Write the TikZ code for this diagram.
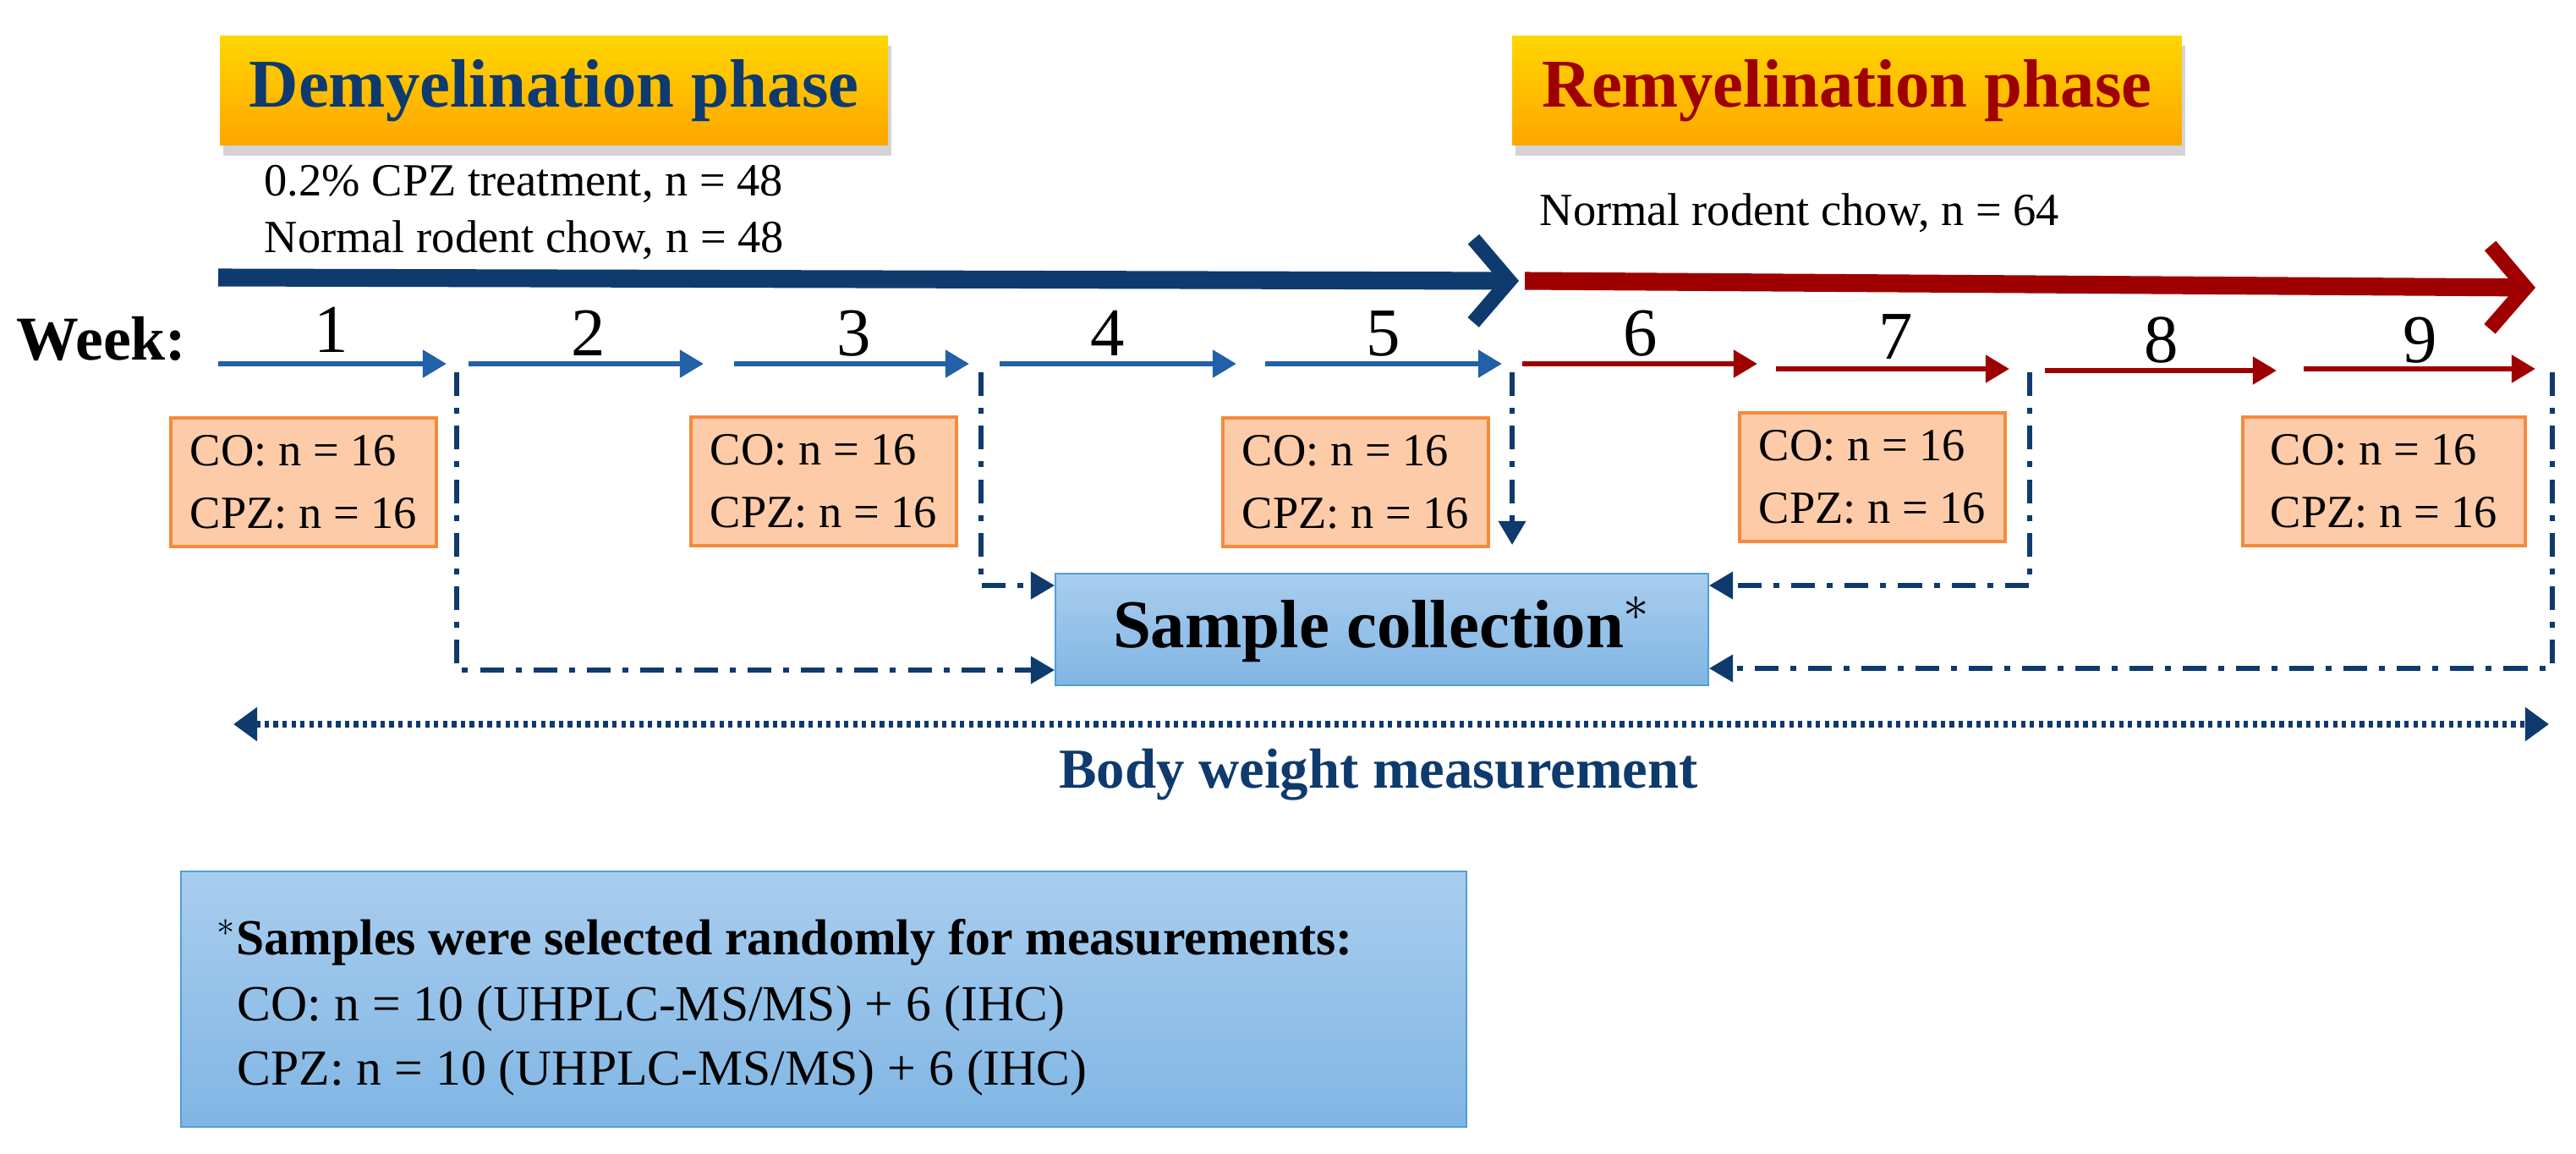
\documentclass[tikz,border=0pt]{standalone}
\usepackage{fontspec}
\setmainfont{Liberation Serif}
\usetikzlibrary{arrows.meta,shadows,positioning}
\definecolor{navy}{HTML}{0E3A6E}
\definecolor{wblue}{HTML}{2260A8}
\definecolor{dred}{HTML}{9E0000}
\definecolor{ofill}{HTML}{FDCBA8}
\definecolor{oline}{HTML}{F58A3C}
\definecolor{btop}{HTML}{A9CDEE}
\definecolor{bbot}{HTML}{80B6E4}
\definecolor{bline}{HTML}{4E9FDA}
\begin{document}
\begin{tikzpicture}[x=0.02cm,y=-0.02cm,
 phase/.style={draw=none,top color=yellow!60!orange!80!yellow,bottom color=orange!70!yellow,
   minimum width=7.9cm,minimum height=1.3cm,inner sep=0pt,font=\fontsize{23}{27}\selectfont\bfseries,
   drop shadow={shadow xshift=0.04cm,shadow yshift=-0.12cm,opacity=0.35}},
 grp/.style={draw=oline,line width=1pt,fill=ofill,minimum width=3.14cm,minimum height=1.52cm,
   align=left,inner sep=0pt,font=\fontsize{15.5}{21}\selectfont},
 wk/.style={wblue,line width=1.8pt,-{Triangle[length=8pt,width=9pt]}},
 rk/.style={dred,line width=1.8pt,-{Triangle[length=8pt,width=9pt]}},
 num/.style={font=\fontsize{23}{27}\selectfont},
 dd/.style={navy,line width=1.5pt,dash pattern=on 8pt off 4pt on 2pt off 4pt},
 ddarr/.style={dd,-{Triangle[length=8pt,width=9pt]}},
 txt/.style={font=\fontsize{15.5}{19}\selectfont,anchor=west,inner sep=0pt},
 bluebox/.style={top color=btop,bottom color=bbot,draw=bline,line width=0.6pt}]
\useasboundingbox (0,0) rectangle (1523,682);
% phase boxes
\node[phase,text=navy] (dem) at (327.5,53.5) {Demyelination phase};
\node[phase,text=dred,minimum width=7.92cm] (rem) at (1092,53.5) {Remyelination phase};
\node[txt] (t1) at (156,109) {0.2\% CPZ treatment, n = 48};
\node[txt] (t2) at (156,142) {Normal rodent chow, n = 48};
\node[txt] (t3) at (910,126) {Normal rodent chow, n = 64};
% big arrows
\coordinate (a0) at (129,164); \coordinate (a1) at (898,166); \coordinate (a2) at (1499,170);
\draw[navy,line width=6pt,-{Straight Barb[length=12pt,width=28pt,line width=5pt]}] (a0) -- (a1);
\draw[dred,line width=6pt,-{Straight Barb[length=12pt,width=28pt,line width=5pt]}] ([xshift=2pt]a1) -- (a2);
% week
\node[font=\fontsize{21}{25}\selectfont\bfseries] (week) at (60,200) {Week:};
\coordinate (w1s) at (129,215); \coordinate (w1e) at (264,215);
\coordinate (w2s) at (277,215); \coordinate (w2e) at (416,215);
\coordinate (w3s) at (434,215); \coordinate (w3e) at (573,215);
\coordinate (w4s) at (591,215); \coordinate (w4e) at (731,215);
\coordinate (w5s) at (748,215); \coordinate (w5e) at (888,215);
\coordinate (w6s) at (900,215); \coordinate (w6e) at (1039,215);
\coordinate (w7s) at (1050,218); \coordinate (w7e) at (1188,218);
\coordinate (w8s) at (1209,219); \coordinate (w8e) at (1346,219);
\coordinate (w9s) at (1362,218); \coordinate (w9e) at (1499,218);
\foreach \i in {1,...,5}{\draw[wk] (w\i s) -- (w\i e);}
\foreach \i in {6,...,9}{\draw[rk] (w\i s) -- (w\i e);}
\node[num] (n1) at (196,195) {1};
\node[num] (n2) at (348,197) {2};
\node[num] (n3) at (505,197) {3};
\node[num] (n4) at (655,197) {4};
\node[num] (n5) at (818,197) {5};
\node[num] (n6) at (970,197) {6};
\node[num] (n7) at (1121,199) {7};
\node[num] (n8) at (1278,201) {8};
\node[num] (n9) at (1431,201) {9};
% group boxes
\node[grp] (b1) at (179.5,285) {CO: n = 16\\CPZ: n = 16};
\node[grp] (b3) at (487,284.5) {CO: n = 16\\CPZ: n = 16};
\node[grp] (b5) at (801.5,285) {CO: n = 16\\CPZ: n = 16};
\node[grp] (b7) at (1107,282) {CO: n = 16\\CPZ: n = 16};
\node[grp,minimum width=3.34cm] (b9) at (1409.5,284.5) {CO: n = 16\\CPZ: n = 16};
% sample collection
\node[bluebox,minimum width=7.72cm,minimum height=1.32cm,font=\fontsize{23}{27}\selectfont\bfseries] (s) at (817,372) {Sample collection$^{\ast}$};
% dash-dot connectors
\coordinate (d1) at (270,220); \coordinate (d3) at (580,220); \coordinate (d5) at (894,220);
\coordinate (d7) at (1200,220); \coordinate (d9) at (1509,220);
\draw[ddarr] (d1) |- (s.west |- 0,396);
\draw[ddarr] (d3) |- (s.west |- 0,346);
\draw[ddarr] (d5) -- (894,322);
\draw[ddarr] (d7) |- (s.east |- 0,346);
\draw[ddarr] (d9) |- (s.east |- 0,395);
% body weight
\coordinate (bw0) at (138,428); \coordinate (bw1) at (1507,428);
\draw[navy,line width=2.5pt,dash pattern=on 1.5pt off 1.5pt,{Triangle[length=8pt,width=11pt]}-{Triangle[length=8pt,width=11pt]}] (bw0) -- (bw1);
\node[navy,font=\fontsize{19}{23}\selectfont\bfseries] (bwt) at (815,458) {Body weight measurement};
% bottom box
\node[bluebox,minimum width=15.2cm,minimum height=3.02cm] (note) at (487,590.5) {};
\node[txt,font=\fontsize{17}{21}\selectfont\bfseries] (l1) at (128,557) {$^{\ast}$Samples were selected randomly for measurements:};
\node[txt,font=\fontsize{17}{21}\selectfont] (l2) at (140,596) {CO: n = 10 (UHPLC-MS/MS) + 6 (IHC)};
\node[txt,font=\fontsize{17}{21}\selectfont] (l3) at (140,634) {CPZ: n = 10 (UHPLC-MS/MS) + 6 (IHC)};
\end{tikzpicture}
\end{document}
